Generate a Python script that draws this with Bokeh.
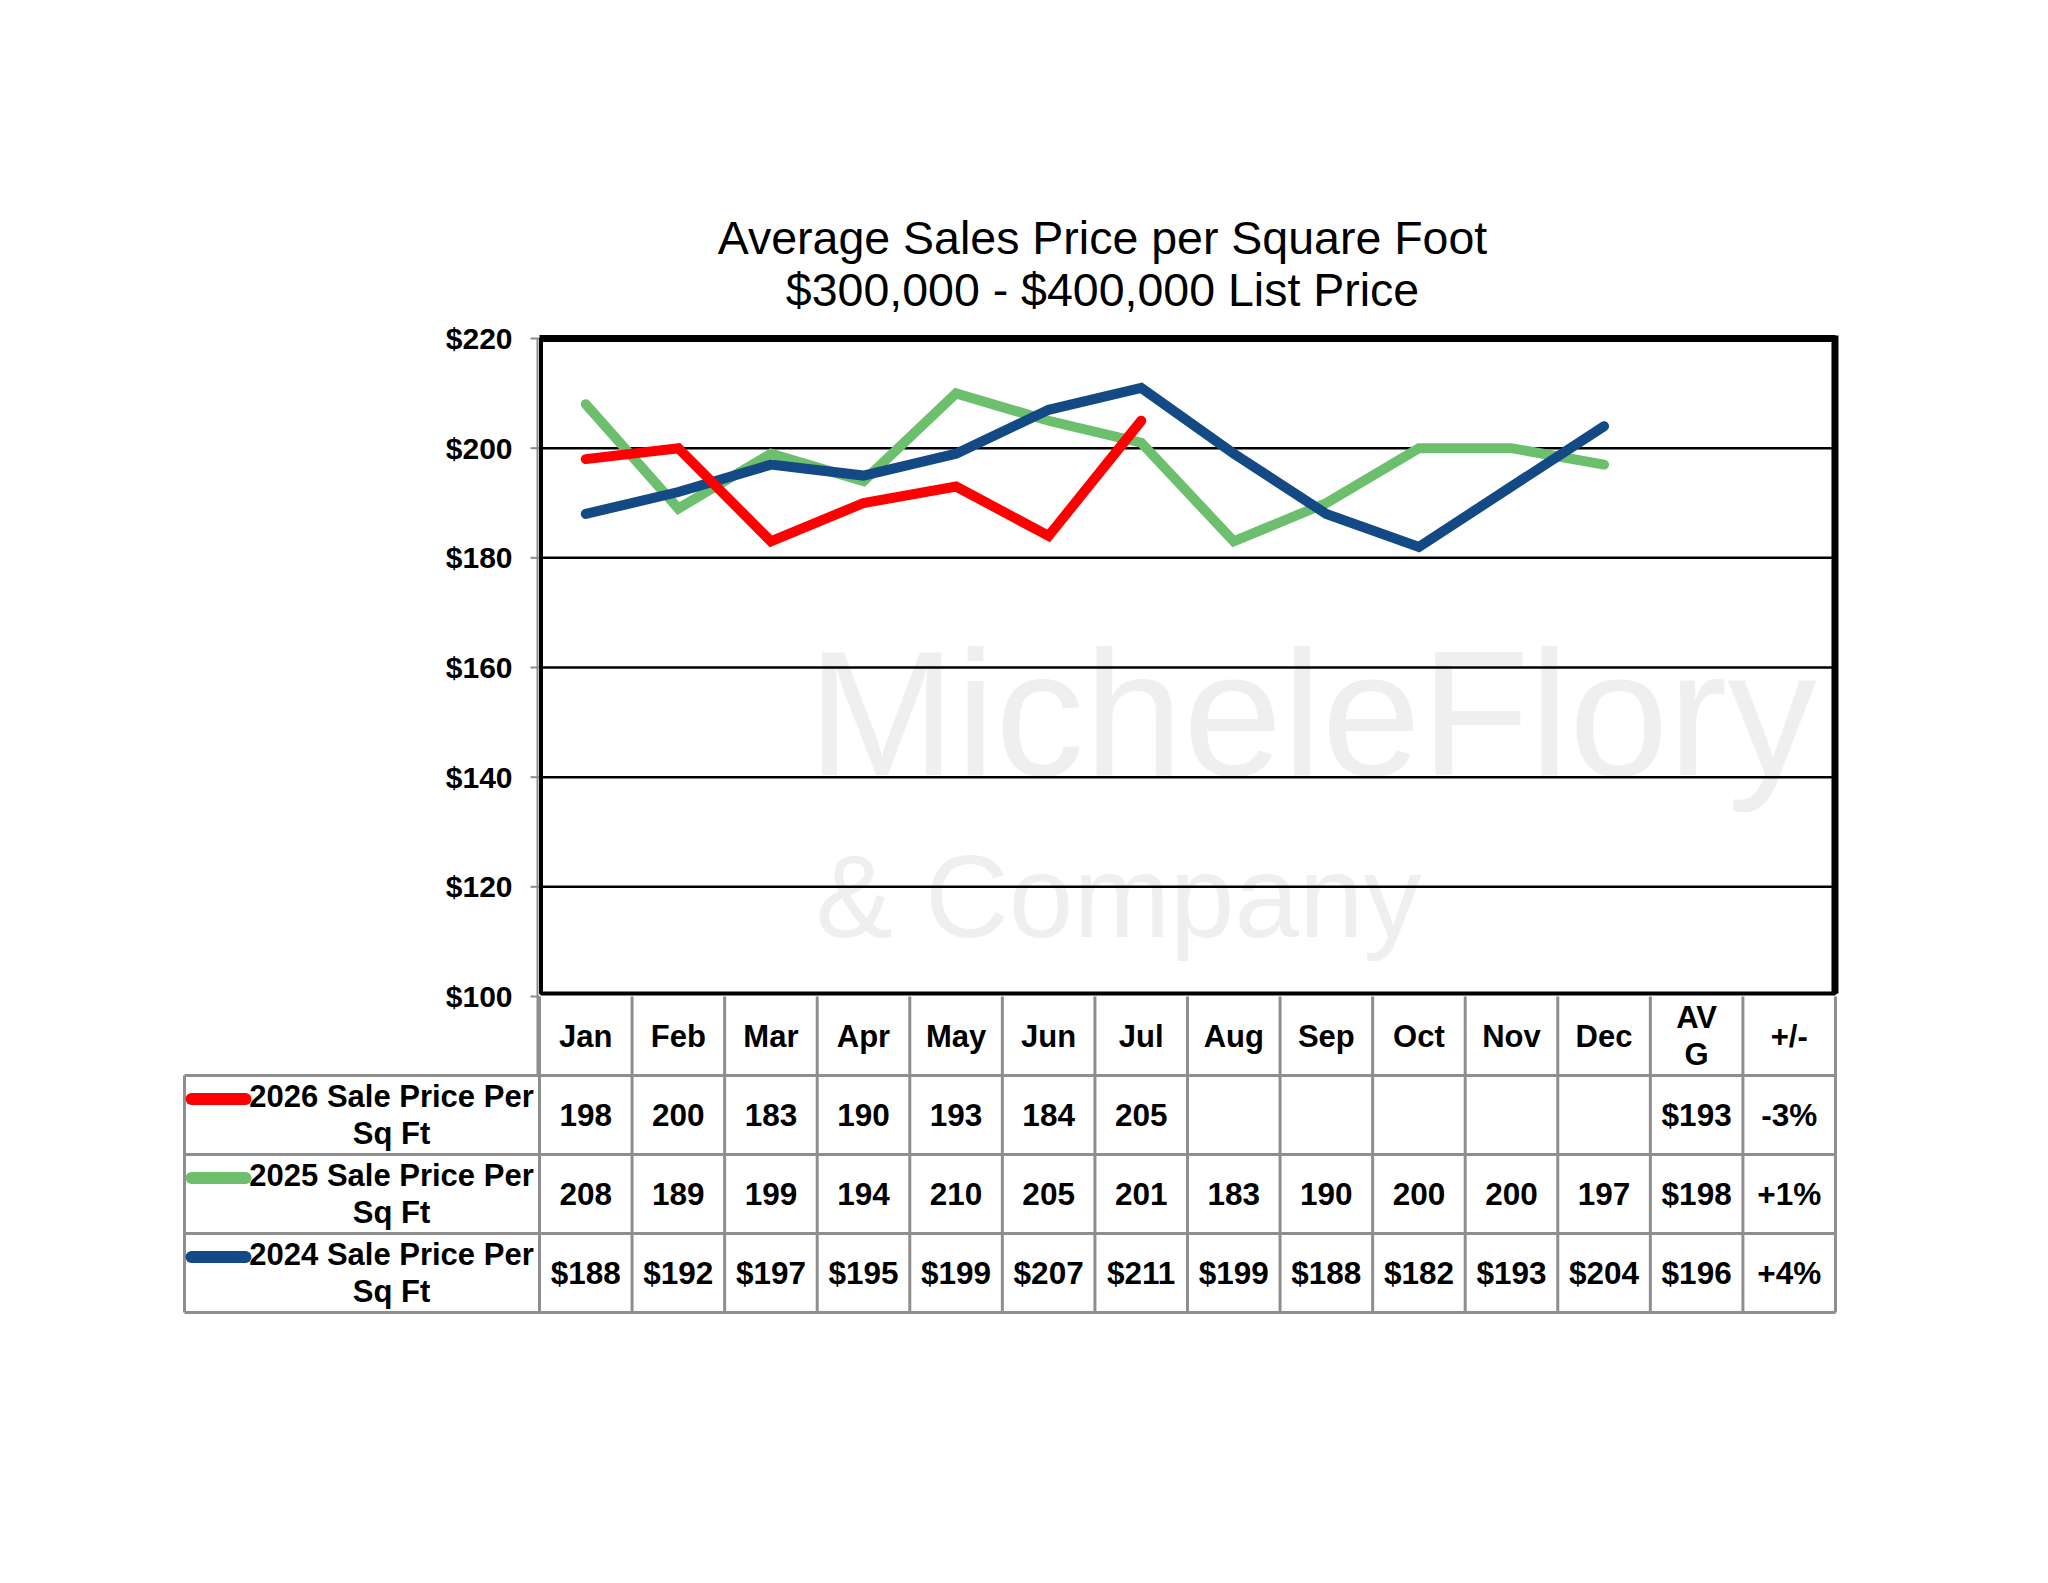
import numpy as np
from bokeh.plotting import figure
from bokeh.models import Range1d
from bokeh.core.properties import value
from bokeh.embed import file_html
from bokeh.resources import INLINE

# ---------------- data ----------------
columns = ["Jan", "Feb", "Mar", "Apr", "May", "Jun", "Jul", "Aug", "Sep", "Oct", "Nov", "Dec", "AVG", "+/-"]
months = columns[:12]
header_labels = ["Jan", "Feb", "Mar", "Apr", "May", "Jun", "Jul", "Aug", "Sep", "Oct", "Nov", "Dec", "AV\nG", "+/-"]

sales_2026 = [198, 200, 183, 190, 193, 184, 205]
sales_2025 = [208, 189, 199, 194, 210, 205, 201, 183, 190, 200, 200, 197]
sales_2024 = [188, 192, 197, 195, 199, 207, 211, 199, 188, 182, 193, 204]

avg_labels = ["$193", "$198", "$196"]
change_labels = ["-3%", "+1%", "+4%"]
series_names = ["2026 Sale Price Per\nSq Ft", "2025 Sale Price Per\nSq Ft", "2024 Sale Price Per\nSq Ft"]
series_colors = ["#ff0000", "#6cbf6c", "#134a85"]
series_prefix = ["", "", "$"]
y_ticks = [100, 120, 140, 160, 180, 200, 220]
title_lines = ["Average Sales Price per Square Foot", "$300,000 - $400,000 List Price"]
watermark_lines = ["MicheleFlory", "& Company"]

FONT = value("Liberation Sans")

# ---------------- layout constants ----------------
W, H = 2032, 1340
COL_PX = 92.57            # pixels per column unit
PX_Y = 658 / 120.0        # pixels per price unit
Y_MIN, Y_MAX = 100, 220
NCOL = len(columns)
NROW = len(series_names)
ROW_H = 79 / PX_Y         # table row height in price units
LEGEND_W = 355 / COL_PX   # legend column width in column units

p = figure(width=W, height=H, title=None,
           x_range=Range1d(-360 / COL_PX, 1300 / COL_PX),
           y_range=Range1d(Y_MIN - 334 / PX_Y, Y_MAX + 170 / PX_Y),
           output_backend="svg", toolbar_location=None,
           x_axis_location=None, y_axis_location=None,
           min_border_left=179, min_border_right=193, min_border_top=168, min_border_bottom=10)
p.grid.visible = False
p.outline_line_color = None
p.background_fill_color = "white"
p.border_fill_color = "white"

# ---------- watermark (faint) ----------
p.text(x=[268 / COL_PX, 276 / COL_PX], y=[Y_MAX - 375 / PX_Y, Y_MAX - 558 / PX_Y], text=watermark_lines,
       text_font=FONT, text_font_size=["178px", "116px"],
       text_color="#efefef", text_align="left", text_baseline="alphabetic")

# ---------- chart gridlines & frame ----------
inner = y_ticks[1:-1]
p.segment(x0=[0] * len(inner), x1=[NCOL] * len(inner), y0=inner, y1=inner,
          line_color="black", line_width=2.5)
# y tick marks
tick_len = 9 / COL_PX
p.segment(x0=[-tick_len] * len(y_ticks), x1=[0] * len(y_ticks), y0=y_ticks, y1=y_ticks,
          line_color="#8c8c8c", line_width=2)
# y tick labels
p.text(x=[-27 / COL_PX] * len(y_ticks), y=y_ticks, text=[f"${v}" for v in y_ticks],
       text_font=FONT, text_font_style="bold", text_font_size="30px", text_color="black",
       text_align="right", text_baseline="middle")

# ---------- series lines (green bottom, blue middle, red top) ----------
xm = [i + 0.5 for i in range(len(months))]
p.line(x=xm, y=sales_2025, line_color=series_colors[1], line_width=10,
       line_join="miter", line_cap="round")
p.line(x=xm, y=sales_2024, line_color=series_colors[2], line_width=10,
       line_join="miter", line_cap="round")
p.line(x=xm[:len(sales_2026)], y=sales_2026, line_color=series_colors[0], line_width=10,
       line_join="miter", line_cap="round")

# frame border
p.segment(x0=[-2 / COL_PX], x1=[-2 / COL_PX], y0=[Y_MIN - 80 / PX_Y], y1=[Y_MAX],
          line_color="#8c8c8c", line_width=2)
p.quad(left=[1.5 / COL_PX], right=[NCOL - 0.5 / COL_PX], bottom=[Y_MIN + 3 / PX_Y], top=[Y_MAX],
       fill_color=None, line_color="black", line_width=4)
p.segment(x0=[0, NCOL - 0.5 / COL_PX], x1=[NCOL, NCOL - 0.5 / COL_PX],
          y0=[Y_MAX, Y_MAX + 3 / PX_Y], y1=[Y_MAX, Y_MIN + 3 / PX_Y],
          line_color="black", line_width=7)

# title
p.text(x=[563 / COL_PX] * 2, y=[Y_MAX + 101 / PX_Y, Y_MAX + 49 / PX_Y], text=title_lines,
       text_font=FONT, text_font_size="46.5px", text_color="black",
       text_align="center", text_baseline="alphabetic")

# ---------------- table ----------------
grid_color = "#8e8e8e"
t_top = Y_MIN
row_tops = [t_top - ROW_H * (r + 1) for r in range(NROW)]   # top edge of data rows
t_bot = t_top - ROW_H * (NROW + 1)
# vertical lines
vx = list(range(NCOL + 1))
p.segment(x0=vx, x1=vx, y0=[t_bot] * len(vx), y1=[t_top] * len(vx), line_color=grid_color, line_width=3)
p.segment(x0=[-LEGEND_W], x1=[-LEGEND_W], y0=[t_bot], y1=[row_tops[0]], line_color=grid_color, line_width=3)
# horizontal lines
hy = row_tops + [t_bot]
p.segment(x0=[-LEGEND_W] * len(hy), x1=[NCOL] * len(hy), y0=hy, y1=hy, line_color=grid_color, line_width=3)

# header
p.text(x=[i + 0.5 for i in range(NCOL)], y=[t_top - ROW_H / 2] * NCOL, text=header_labels,
       text_font=FONT, text_font_style="bold", text_font_size="31px", text_color="black",
       text_align="center", text_baseline="middle", text_line_height=1.05)

row_y = [rt - ROW_H / 2 for rt in row_tops]
# legend labels
p.text(x=[-148 / COL_PX] * NROW, y=row_y, text=series_names,
       text_font=FONT, text_font_style="bold", text_font_size="31px", text_color="black",
       text_align="center", text_baseline="middle", text_line_height=1.08)
# legend swatches
sw_y = [yy + 16 / PX_Y for yy in row_y]
p.segment(x0=[-348 / COL_PX] * NROW, x1=[-294 / COL_PX] * NROW, y0=sw_y, y1=sw_y,
          line_color=series_colors, line_width=12, line_cap="round")

# cell values
series_vals = [sales_2026, sales_2025, sales_2024]
cx, cy, ct = [], [], []
for r, vals in enumerate(series_vals):
    for i, v in enumerate(vals):
        cx.append(i + 0.5)
        cy.append(row_y[r])
        ct.append(f"{series_prefix[r]}{v}")
    cx.append(NCOL - 1.5); cy.append(row_y[r]); ct.append(avg_labels[r])
    cx.append(NCOL - 0.5); cy.append(row_y[r]); ct.append(change_labels[r])
p.text(x=cx, y=cy, text=ct, text_font=FONT, text_font_style="bold", text_font_size="31.5px",
       text_color="black", text_align="center", text_baseline="middle")

open("out.html", "w").write(file_html(p, INLINE))
